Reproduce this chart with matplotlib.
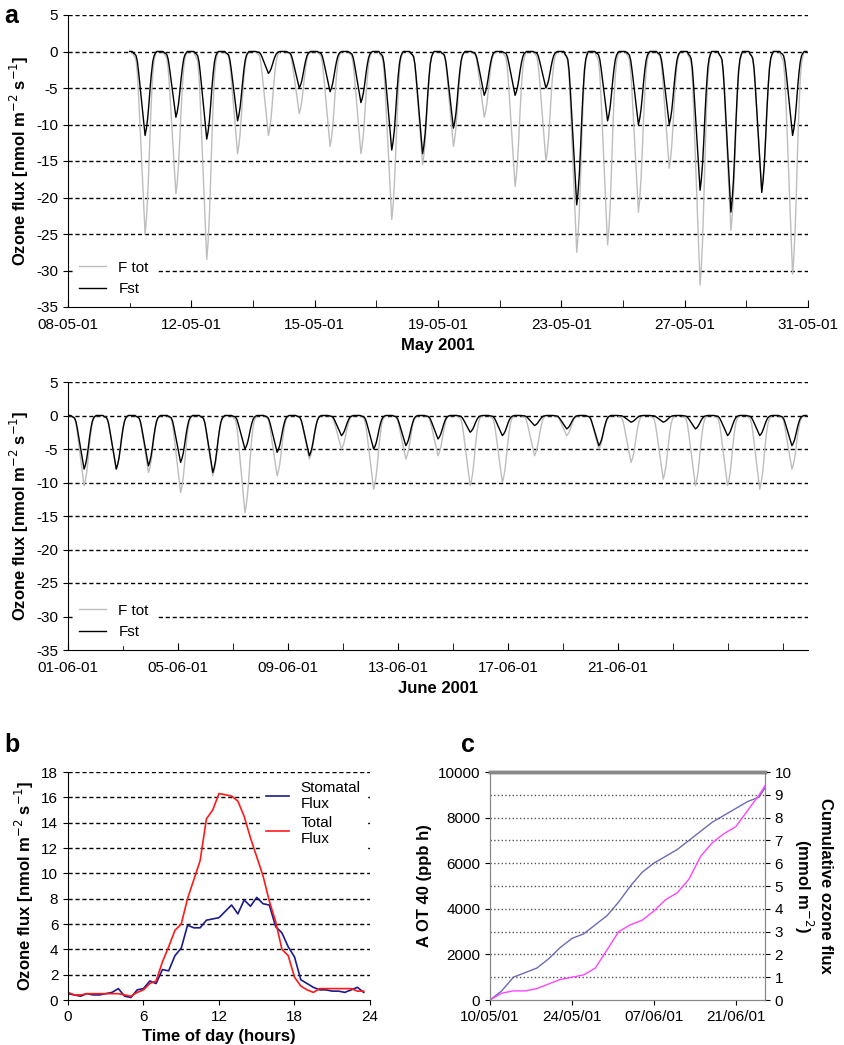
import numpy as np
import matplotlib.pyplot as plt

plt.rcParams['font.family'] = ['Liberation Sans', 'DejaVu Sans']
plt.rcParams['axes.unicode_minus'] = False

# diurnal shape of a flux dip (fraction of daily minimum), hourly
day_shape = [0, 0, 0, 0.02, 0.03, 0.05, 0.12, 0.25, 0.4, 0.55, 0.7, 0.85,
             1.0, 0.92, 0.8, 0.62, 0.42, 0.25, 0.12, 0.05, 0.02, 0, 0, 0]

# May: first day index of dips and daily minima
may_start = 2
may_ftot = [-25, -19.5, -28.5, -14, -11.5, -8.5, -13, -14, -23, -15.5, -13,
            -9, -18.5, -15, -27.5, -26.5, -22, -16, -32, -24.5, -19, -30.5]
may_fst = [-11.5, -9, -12, -9.5, -3, -5, -5.5, -7, -13.5, -14, -10.5,
           -6, -6, -5, -21, -9.5, -10, -10, -19, -22, -19.3, -11.5]
may_ticks = ['08-05-01', '12-05-01', '15-05-01', '19-05-01', '23-05-01', '27-05-01', '31-05-01']

# June
jun_start = 0
jun_ftot = [-10.5, -8, -8.5, -11.5, -9, -14.5, -9, -6.5, -5, -11, -6.5, -6,
            -10.5, -10, -6, -3, -5, -7, -9.5, -10.5, -10.5, -11, -8]
jun_fst = [-8, -8, -7.5, -7, -8.5, -5, -5.5, -6, -3, -5, -4.5, -3.5,
           -2.5, -3, -1.5, -2, -4.5, -1, -1, -2, -3, -3, -4.5]
jun_ticks = ['01-06-01', '05-06-01', '09-06-01', '13-06-01', '17-06-01', '21-06-01']

# panel b: mean diurnal course, half-hourly
hours_b = np.arange(0, 24, 0.5)
stomatal = [0.5, 0.4, 0.3, 0.5, 0.4, 0.4, 0.5, 0.6, 0.9, 0.3, 0.2, 0.8, 0.9, 1.5, 1.3, 2.4,
            2.3, 3.5, 4.1, 5.9, 5.7, 5.7, 6.3, 6.4, 6.5, 7.0, 7.5, 6.8, 7.9, 7.4, 8.1, 7.6,
            7.5, 5.8, 5.3, 4.2, 3.4, 1.6, 1.3, 1.0, 0.8, 0.8, 0.7, 0.7, 0.6, 0.8, 1.0, 0.6]
total = [0.6, 0.4, 0.4, 0.5, 0.5, 0.5, 0.5, 0.5, 0.5, 0.4, 0.3, 0.6, 0.8, 1.3, 1.5, 3.0,
         4.2, 5.5, 6.0, 8.0, 9.5, 11.0, 14.3, 15.0, 16.3, 16.2, 16.1, 15.7, 14.5, 12.8, 11.3, 9.8,
         7.8, 6.2, 4.0, 3.5, 1.8, 1.1, 0.8, 0.6, 0.9, 0.9, 0.9, 0.9, 0.9, 0.9, 0.7, 0.7]

# panel c: cumulative AOT40 and ozone flux (days since 10/05/01)
days_c = [0, 2, 4, 6, 8, 10, 12, 14, 16, 18, 20, 22, 24, 26, 28, 30, 32, 34, 36, 38, 40, 42, 44, 46, 47]
aot40 = [0, 400, 1000, 1200, 1400, 1800, 2300, 2700, 2900, 3300, 3700, 4300, 5000, 5600, 6000,
         6300, 6600, 7000, 7400, 7800, 8100, 8400, 8700, 8900, 9300]
cum_flux = [0, 0.3, 0.4, 0.4, 0.5, 0.7, 0.9, 1.0, 1.1, 1.4, 2.2, 3.0, 3.3, 3.5, 3.9,
            4.4, 4.7, 5.3, 6.3, 6.9, 7.3, 7.6, 8.3, 9.0, 9.4]
c_ticks = ['10/05/01', '24/05/01', '07/06/01', '21/06/01']


def build_series(start, minima):
    t, v = [], []
    for i, m in enumerate(minima):
        for h, s in enumerate(day_shape):
            t.append(start + i + h / 24)
            v.append(m * s)
    return np.array(t), np.array(v)


def flux_panel(ax, start, ftot, fst, xmax, ticks, tick_step, xlabel):
    t, vt = build_series(start, ftot)
    _, vs = build_series(start, fst)
    ax.plot(t, vt, color='#bdbdbd', lw=1, label='F tot')
    ax.plot(t, vs, color='black', lw=1, label='Fst')
    ax.set_ylim(-35, 5)
    ax.set_xlim(0, xmax)
    ax.set_yticks(range(-35, 6, 5))
    for y in range(-30, 6, 5):
        ax.axhline(y, color='black', ls=(0, (3, 2)), lw=1, zorder=0)
    pos = [k * tick_step for k in range(len(ticks))]
    ax.set_xticks(pos)
    ax.set_xticklabels(ticks, fontsize=11)
    ax.set_xticks(np.arange(0, xmax + 0.01, tick_step / 2), minor=True)
    ax.tick_params(axis='x', which='both', direction='in', length=5, pad=8)
    ax.tick_params(axis='y', labelsize=11)
    for s in ['top', 'right']:
        ax.spines[s].set_visible(False)
    ax.set_ylabel('Ozone flux [nmol m$^{-2}$ s$^{-1}$]', fontsize=12, fontweight='bold')
    ax.set_xlabel(xlabel, fontsize=12, fontweight='bold')
    leg = ax.legend(loc='lower left', frameon=True, fontsize=11, handlelength=1.8,
                    borderaxespad=0.3, fancybox=False, framealpha=1)
    leg.get_frame().set_edgecolor('white')


fig = plt.figure(figsize=(8.45, 10.45), dpi=100)
W, H = 845, 1045


def add_ax(l, r, t, b):
    return fig.add_axes([l / W, 1 - b / H, (r - l) / W, (b - t) / H])


ax1 = add_ax(68, 808, 15, 307)
flux_panel(ax1, may_start, may_ftot, may_fst, 24, may_ticks, 4, 'May 2001')
ax2 = add_ax(68, 808, 382, 650)
flux_panel(ax2, jun_start, jun_ftot, jun_fst, 23, jun_ticks, 23 * 110 / 740, 'June 2001')
fig.text(0.005, 0.978, 'a', fontsize=18, fontweight='bold')

# panel b
axb = add_ax(68, 370, 772, 1000)
axb.plot(hours_b, stomatal, color='#1a1a8c', lw=1.2, label='Stomatal\nFlux')
axb.plot(hours_b, total, color='#ff1a1a', lw=1.2, label='Total\nFlux')
axb.set_xlim(0, 24)
axb.set_ylim(0, 18)
axb.set_xticks([0, 6, 12, 18, 24])
axb.set_yticks(range(0, 19, 2))
for y in range(2, 19, 2):
    axb.axhline(y, color='black', ls=(0, (3, 2)), lw=1, zorder=0)
for s in ['top', 'right']:
    axb.spines[s].set_visible(False)
axb.tick_params(labelsize=11)
axb.set_ylabel('Ozone flux [nmol m$^{-2}$ s$^{-1}$]', fontsize=12, fontweight='bold')
axb.set_xlabel('Time of day (hours)', fontsize=12, fontweight='bold')
lb = axb.legend(loc='upper right', fontsize=11, handlelength=1.5, fancybox=False,
                borderaxespad=0.2, labelspacing=0.3, framealpha=1)
lb.get_frame().set_edgecolor('white')
fig.text(0.005, 0.28, 'b', fontsize=18, fontweight='bold')

# panel c
axc = add_ax(490, 765, 772, 1000)
axc.plot(days_c, aot40, color='#6b6bb5', lw=1)
axc.set_xlim(0, 47)
axc.set_ylim(0, 10000)
axc.set_xticks([0, 14, 28, 42])
axc.set_xticklabels(c_ticks)
axc.tick_params(labelsize=11)
axc.set_ylabel('A OT 40 (ppb h)', fontsize=12, fontweight='bold')
axc2 = axc.twinx()
axc2.plot(days_c, cum_flux, color='#ff44ff', lw=1)
axc2.set_ylim(0, 10)
axc2.set_yticks(range(0, 11))
for y in range(1, 10):
    axc2.axhline(y, color='#555555', ls=':', lw=1, zorder=0)
axc2.tick_params(labelsize=11)
axc2.set_ylabel('Cumulative ozone flux\n(mmol m$^{-2}$)', fontsize=12, fontweight='bold',
                rotation=270, labelpad=30)
for a in (axc, axc2):
    for s in a.spines.values():
        s.set_color('#888888')
    a.spines['top'].set_linewidth(2.5)
fig.text(0.545, 0.28, 'c', fontsize=18, fontweight='bold')

fig.savefig('out.png', dpi=100)
